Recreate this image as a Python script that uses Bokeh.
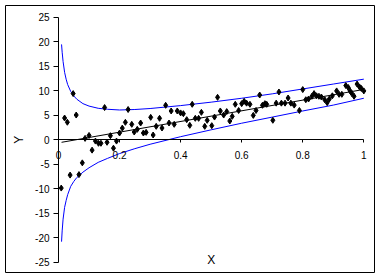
import math
from bokeh.plotting import figure
from bokeh.models import FixedTicker, CustomJSTickFormatter, Label
from bokeh.embed import file_html
from bokeh.resources import INLINE

# ---- data ----
pts_x = [0.009, 0.02, 0.029, 0.038, 0.048, 0.058, 0.067, 0.078, 0.087, 0.1,
         0.11, 0.121, 0.131, 0.139, 0.151, 0.159, 0.17, 0.18, 0.19, 0.2,
         0.209, 0.219, 0.228, 0.24,
         0.248, 0.258, 0.269, 0.278, 0.287, 0.302, 0.31, 0.32, 0.331, 0.339,
         0.351, 0.362, 0.369, 0.379, 0.389, 0.4, 0.409, 0.42, 0.43, 0.438,
         0.448, 0.459, 0.468, 0.479, 0.487, 0.502, 0.511, 0.521, 0.53, 0.541,
         0.551, 0.561,
         0.569, 0.579, 0.59, 0.6, 0.608, 0.616, 0.627, 0.638, 0.647, 0.659,
         0.668, 0.676, 0.682, 0.702, 0.713, 0.722, 0.73, 0.742, 0.752, 0.761,
         0.772, 0.789, 0.8, 0.81, 0.819, 0.83, 0.837, 0.845, 0.853, 0.861,
         0.872, 0.88, 0.887, 0.897, 0.911, 0.919, 0.928, 0.941, 0.949, 0.955,
         0.961, 0.968, 0.978, 0.986, 0.992, 1.0]
pts_y = [-9.85, 4.46, 3.6, -7.2, 9.45, 5.07, -7.1, -4.7, 0.3, 0.9,
         -2.1, -0.25, -0.7, -0.7, 6.6, -0.5, 0.85, -1.7, -0.25, 1.4,
         2.4, 3.58, 6.2, 3.17,
         1.6, 2.15, 3.44, 1.4, 1.53, 4.6, 0.99, 2.76, 4.4, 2.42,
         7.06, 3.44, 5.9, 3.17, 5.9, 5.5, 5.35, 4.13, 2.97, 7.26,
         4.4, 4.4, 5.62, 2.76, 3.99, 2.9, 4.66, 8.69, 5.9, 5.07,
         5.77, 3.85,
         4.8, 7.26, 6.0, 7.4, 7.87, 7.5, 7.26, 5.0, 6.0, 9.16,
         7.06, 7.4, 7.26, 4.0, 7.5, 9.78, 7.5, 7.5, 8.55, 7.5,
         7.1, 6.0, 10.27, 8.2, 8.35, 8.9, 9.45, 9.0, 8.9, 8.75,
         8.2, 7.6, 8.35, 9.0, 10.0, 9.3, 9.3, 11.1, 10.7, 10.0,
         9.45, 8.9, 11.4, 10.8, 10.5, 10.0]

fit_x = [0.01, 1.0]
fit_y = [-0.5, 10.3]

band_x = [0.01, 0.012, 0.015, 0.02, 0.025, 0.03, 0.04, 0.05, 0.06, 0.08,
          0.10, 0.13, 0.16, 0.20, 0.25, 0.30, 0.40, 0.50, 0.60, 0.70,
          0.80, 0.90, 1.00]
band_upper = [19.5, 17.9, 16.0, 13.8, 12.4, 11.3, 9.9, 8.98, 8.3, 7.4,
              6.9, 6.45, 6.25, 6.1, 6.2, 6.4, 7.0, 7.7, 8.5, 9.4,
              10.4, 11.4, 12.4]
band_lower = [-20.8, -18.6, -16.2, -13.8, -12.4, -11.2, -9.5, -8.5, -7.7, -6.6,
              -5.7, -4.6, -3.8, -2.8, -1.8, -0.9, 0.65, 2.05, 3.4, 4.65,
              5.9, 7.1, 8.5]

x_ticks = [0, 0.2, 0.4, 0.6, 0.8, 1]
y_ticks = [-25, -20, -15, -10, -5, 0, 5, 10, 15, 20, 25]

FONT = "Liberation Sans"

p = figure(width=381, height=278, x_range=(-0.1736, 1.035), y_range=(-27.1, 27.45),
           output_backend="svg", toolbar_location=None,
           min_border_left=5, min_border_right=7, min_border_top=5, min_border_bottom=6)
p.grid.visible = False
p.outline_line_color = "black"
p.outline_line_width = 1
p.background_fill_color = "white"
p.border_fill_color = "white"

fmt = "return tick.toString()"
xa = p.xaxis[0]
xa.fixed_location = 0
xa.bounds = (0, 1)
xa.ticker = FixedTicker(ticks=x_ticks)
xa.formatter = CustomJSTickFormatter(code=fmt)
xa.major_tick_in = 0
xa.major_tick_out = 3
xa.minor_tick_in = 0
xa.minor_tick_out = 0
xa.major_label_standoff = 8
xa.axis_line_color = "black"
xa.major_tick_line_color = "black"
xa.major_label_text_font = FONT
xa.major_label_text_font_size = "10px"
xa.major_label_text_color = "black"

ya = p.yaxis[0]
ya.fixed_location = 0
ya.bounds = (-25, 25)
ya.ticker = FixedTicker(ticks=y_ticks)
ya.formatter = CustomJSTickFormatter(code=fmt)
ya.major_tick_in = 0
ya.major_tick_out = 5
ya.minor_tick_in = 0
ya.minor_tick_out = 0
ya.major_label_standoff = 4
ya.axis_line_color = "black"
ya.major_tick_line_color = "black"
ya.major_label_text_font = FONT
ya.major_label_text_font_size = "10px"
ya.major_label_text_color = "black"

p.line(band_x, band_upper, line_color="#0000FF", line_width=1)
p.line(band_x, band_lower, line_color="#0000FF", line_width=1)
p.line(fit_x, fit_y, line_color="black", line_width=1)
p.scatter(pts_x, pts_y, marker="diamond", size=6, color="black")

p.add_layout(Label(x=0.5, y=-24.6, text="X", text_align="center", text_baseline="middle",
                   text_font=FONT, text_font_size="12px", text_color="black"))
p.add_layout(Label(x=-0.131, y=0, text="Y", angle=math.pi / 2, text_align="center",
                   text_baseline="middle", text_font=FONT, text_font_size="12px",
                   text_color="black"))

open("out.html", "w").write(file_html(p, INLINE))
